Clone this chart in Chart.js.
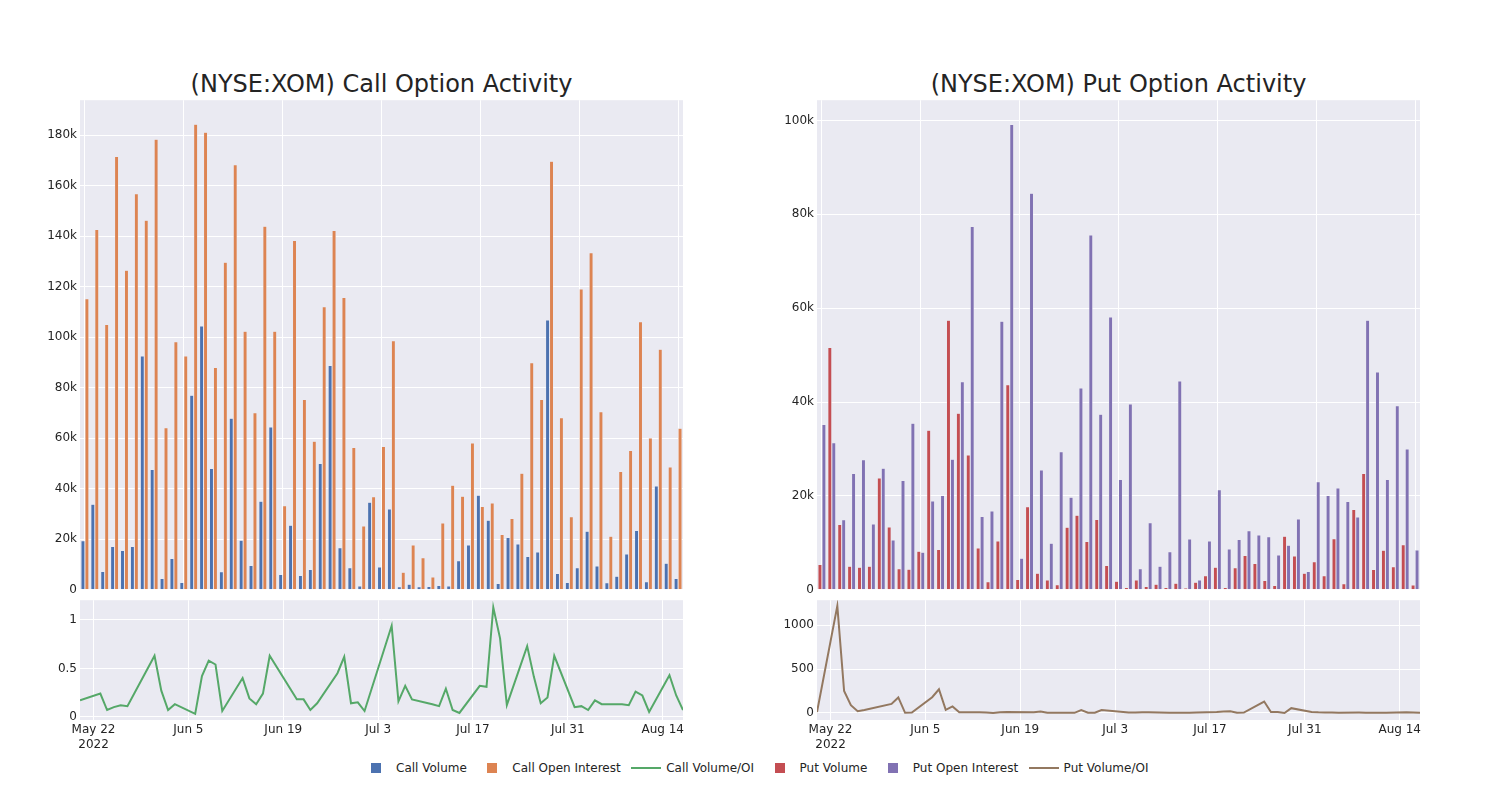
<!DOCTYPE html>
<html>
<head>
<meta charset="utf-8">
<script src="https://cdn.jsdelivr.net/npm/chart.js@4.4.0/dist/chart.umd.min.js"></script>
<style>
  body { margin: 0; background: #fff; font-family: 'DejaVu Sans', sans-serif; }
  #wrap { position: relative; width: 1500px; height: 800px; }
  canvas { position: absolute; }
  .title { position: absolute; top: 72px; width: 603px; text-align: center; font-size: 24px;
           line-height: 24px; color: rgb(36,36,36); white-space: nowrap; }
  #legend { position: absolute; left: 356px; top: 760px; height: 16px; display: flex;
            align-items: center; font-size: 12px; color: rgb(36,36,36); white-space: nowrap; }
  .item { display: flex; align-items: center; margin-right: 5.5px; }
  .sym { width: 40px; height: 16px; position: relative; }
  .sym .sq { position: absolute; left: 15px; top: 3px; width: 10px; height: 10px; }
  .sym .ln { position: absolute; left: 5px; top: 7px; width: 30px; height: 2px; }
</style>
</head>
<body>
<div id="wrap">
  <div class="title" style="left:80px">(NYSE:XOM) Call Option Activity</div>
  <div class="title" style="left:817px">(NYSE:XOM) Put Option Activity</div>
  <canvas id="callBars" width="700" height="510" style="left:0;top:90px"></canvas>
  <canvas id="callRatio" width="700" height="170" style="left:0;top:590px"></canvas>
  <canvas id="putBars" width="700" height="510" style="left:737px;top:90px"></canvas>
  <canvas id="putRatio" width="700" height="170" style="left:737px;top:590px"></canvas>
  <div id="legend"></div>
</div>
<script>
// trading days
var dates = [
  '2022-05-20',
  '2022-05-23','2022-05-24','2022-05-25','2022-05-26','2022-05-27',
  '2022-05-31','2022-06-01','2022-06-02','2022-06-03',
  '2022-06-06','2022-06-07','2022-06-08','2022-06-09','2022-06-10',
  '2022-06-13','2022-06-14','2022-06-15','2022-06-16','2022-06-17',
  '2022-06-21','2022-06-22','2022-06-23','2022-06-24',
  '2022-06-27','2022-06-28','2022-06-29','2022-06-30','2022-07-01',
  '2022-07-05','2022-07-06','2022-07-07','2022-07-08',
  '2022-07-11','2022-07-12','2022-07-13','2022-07-14','2022-07-15',
  '2022-07-18','2022-07-19','2022-07-20','2022-07-21','2022-07-22',
  '2022-07-25','2022-07-26','2022-07-27','2022-07-28','2022-07-29',
  '2022-08-01','2022-08-02','2022-08-03','2022-08-04','2022-08-05',
  '2022-08-08','2022-08-09','2022-08-10','2022-08-11','2022-08-12',
  '2022-08-15','2022-08-16','2022-08-17'
];

var callVolume = [19400, 33900, 7200, 17100, 15600, 17100, 92500, 47600, 4500, 12400,
  2900, 77000, 104400, 48000, 7100, 67900, 19600, 9600, 35100, 64400,
  6100, 25600, 5700, 8000, 50000, 88800, 16600, 8700, 1500, 34700,
  9000, 32000, 1200, 2200, 1200, 1300, 1700, 1500, 11500, 17700,
  37400, 27500, 2500, 20700, 18100, 13200, 15000, 106800, 6500, 2900,
  8700, 23200, 9400, 2800, 5400, 14200, 23500, 3200, 41100, 10500, 4500];

var callOI = [115200, 142600, 105000, 171500, 126500, 156800, 146300, 178300, 64100, 98200,
  92500, 184300, 181100, 88000, 129700, 168200, 102300, 70100, 143900, 102300,
  33300, 138300, 75300, 58800, 112000, 142200, 115700, 56300, 25300, 36800,
  56700, 98600, 6900, 17700, 12700, 5100, 26400, 41400, 37000, 58100,
  33000, 34400, 21900, 28200, 46100, 89900, 75300, 169600, 68100, 28900,
  119100, 133400, 70500, 21200, 46800, 55100, 106100, 60100, 95200, 48600, 63900];

var callRatio = [0.17, 0.24, 0.07, 0.10, 0.12, 0.11, 0.63, 0.27, 0.07, 0.13,
  0.03, 0.42, 0.58, 0.54, 0.06, 0.40, 0.19, 0.13, 0.24, 0.63,
  0.18, 0.18, 0.07, 0.14, 0.45, 0.62, 0.14, 0.15, 0.06, 0.94,
  0.16, 0.32, 0.18, 0.13, 0.11, 0.29, 0.07, 0.04, 0.32, 0.31,
  1.13, 0.81, 0.12, 0.73, 0.41, 0.14, 0.20, 0.63, 0.10, 0.11,
  0.07, 0.17, 0.13, 0.13, 0.12, 0.26, 0.22, 0.05, 0.43, 0.22, 0.07];

var putVolume = [5400, 51600, 13900, 5000, 4800, 5000, 23800, 13400, 4500, 4400,
  8200, 34000, 8600, 57400, 37600, 28700, 8900, 1700, 10400, 43700,
  2200, 17700, 3500, 2100, 1100, 13300, 15900, 10300, 15000, 5200,
  1800, 500, 2100, 700, 1200, 500, 1400, 400, 1600, 3000,
  4800, 500, 4700, 7300, 5600, 2000, 900, 11400, 7200, 3500,
  6000, 3000, 10900, 1300, 17100, 24800, 4300, 8400, 4900, 9600, 1000];

var putOI = [35200, 31300, 14900, 24800, 27700, 14000, 25900, 10600, 23300, 35500,
  8000, 18900, 20100, 27800, 44300, 77400, 15600, 16800, 57200, 99100,
  6700, 84500, 25500, 9900, 29400, 19700, 43000, 75600, 37400, 58100,
  23500, 39600, 4500, 14300, 5000, 8100, 44500, 10800, 2100, 10400,
  21300, 8700, 10700, 12600, 11700, 11300, 7400, 9500, 15100, 3900,
  23000, 20100, 21700, 18800, 15500, 57400, 46400, 23500, 39200, 30000, 8500];

var putRatio = [10, 1220, 250, 88, 20, 35, 103, 177, 2, 5,
  180, 270, 35, 75, 8, 8, 6, 0, 8, 10,
  7, 18, 2, 2, 2, 33, 3, 3, 33, 5,
  6, 8, 7, 3, 3, 4, 4, 5, 10, 18,
  20, 2, 4, 130, 12, 11, 0, 55, 12, 8,
  6, 5, 4, 5, 4, 4, 3, 3, 8, 6, 2];

var seriesNames = ['Call Volume', 'Call Open Interest', 'Call Volume/OI',
                   'Put Volume', 'Put Open Interest', 'Put Volume/OI'];
var seriesColors = ['#4C72B0', '#DD8452', '#55A868', '#C44E52', '#8172B3', '#937860'];
var seriesKinds = ['bar', 'bar', 'line', 'bar', 'bar', 'line'];

var BG = 'rgb(234,234,242)';
var TXT = 'rgb(36,36,36)';
Chart.defaults.font.family = "'DejaVu Sans', sans-serif";
Chart.defaults.font.size = 12;
Chart.defaults.color = TXT;

var plotBg = {
  id: 'plotBg',
  beforeDraw: function (chart) {
    var a = chart.chartArea, c = chart.ctx;
    c.save();
    c.fillStyle = BG;
    c.fillRect(a.left, a.top, a.right - a.left, a.bottom - a.top);
    c.restore();
  }
};

var base = Date.UTC(2022, 4, 22);
var MON = ['Jan','Feb','Mar','Apr','May','Jun','Jul','Aug','Sep','Oct','Nov','Dec'];
function dayOf(s) {
  var p = s.split('-').map(Number);
  return (Date.UTC(p[0], p[1] - 1, p[2]) - base) / 864e5;
}
function dayLabel(v) {
  var d = new Date(base + v * 864e5);
  var s = MON[d.getUTCMonth()] + ' ' + d.getUTCDate();
  return v === 0 ? [s, '2022'] : s;
}
// ticks on whole multiples of step only
function stepTicks(step) {
  return function (scale) {
    var t = [];
    var k0 = Math.ceil(scale.min / step - 1e-9);
    for (var k = k0; k * step <= scale.max + 1e-9; k++) {
      t.push({ value: Math.round(k * step * 1e6) / 1e6 });
    }
    scale.ticks = t;
  };
}
function kFmt(v) { return v === 0 ? '0' : (v / 1000) + 'k'; }

function barChart(id, vol, oi, cVol, cOi, yMax) {
  new Chart(document.getElementById(id), {
    type: 'bar',
    data: {
      labels: dates,
      datasets: [
        { data: vol, backgroundColor: cVol, borderColor: BG, borderWidth: 0.5 },
        { data: oi, backgroundColor: cOi, borderColor: BG, borderWidth: 0.5 }
      ]
    },
    options: {
      responsive: false,
      animation: false,
      layout: { padding: { top: 10, bottom: 10, left: 0, right: 17 } },
      categoryPercentage: 0.8,
      barPercentage: 1.0,
      plugins: { legend: { display: false }, tooltip: { enabled: false } },
      scales: {
        x: {
          ticks: { display: false, autoSkip: false },
          grid: {
            offset: false, drawTicks: false, lineWidth: 1,
            color: function (c) { return c.index % 10 === 0 ? '#fff' : 'rgba(0,0,0,0)'; }
          },
          border: { display: false },
          afterFit: function (s) { s.height = 0; }
        },
        y: {
          min: 0, max: yMax,
          ticks: { padding: 3, autoSkip: false, callback: kFmt },
          grid: { color: '#fff', drawTicks: false },
          border: { display: false },
          afterBuildTicks: stepTicks(20000),
          afterFit: function (s) { s.width = 80; }
        }
      }
    },
    plugins: [plotBg]
  });
}

function ratioChart(id, vals, color, yMin, yMax, step) {
  var pts = dates.map(function (d, i) { return { x: dayOf(d), y: vals[i] }; });
  new Chart(document.getElementById(id), {
    type: 'line',
    data: { datasets: [{ data: pts, borderColor: color, borderWidth: 2, pointRadius: 0, tension: 0 }] },
    options: {
      responsive: false,
      animation: false,
      layout: { padding: { top: 7, bottom: 0, left: 0, right: 17 } },
      plugins: { legend: { display: false }, tooltip: { enabled: false } },
      scales: {
        x: {
          type: 'linear',
          min: dayOf(dates[0]), max: dayOf(dates[dates.length - 1]),
          ticks: { padding: 3, maxRotation: 0, autoSkip: false, callback: dayLabel },
          grid: { color: '#fff', drawTicks: false },
          border: { display: false },
          afterBuildTicks: stepTicks(14),
          afterFit: function (s) { s.height = 40; }
        },
        y: {
          min: yMin, max: yMax,
          ticks: { padding: 3, autoSkip: false, callback: function (v) { return String(v); } },
          grid: { color: '#fff', drawTicks: false },
          border: { display: false },
          afterBuildTicks: stepTicks(step),
          afterFit: function (s) { s.width = 80; }
        }
      }
    },
    plugins: [plotBg]
  });
}

barChart('callBars', callVolume, callOI, seriesColors[0], seriesColors[1], 193800);
ratioChart('callRatio', callRatio, seriesColors[2], -0.033, 1.204, 0.5);
barChart('putBars', putVolume, putOI, seriesColors[3], seriesColors[4], 104300);
ratioChart('putRatio', putRatio, seriesColors[5], -80, 1285, 500);

var legend = document.getElementById('legend');
seriesNames.forEach(function (name, i) {
  var item = document.createElement('div');
  item.className = 'item';
  var sym = document.createElement('div');
  sym.className = 'sym';
  var mark = document.createElement('div');
  mark.className = seriesKinds[i] === 'bar' ? 'sq' : 'ln';
  mark.style.background = seriesColors[i];
  sym.appendChild(mark);
  var txt = document.createElement('span');
  txt.textContent = name;
  item.appendChild(sym);
  item.appendChild(txt);
  legend.appendChild(item);
});
</script>
</body>
</html>
